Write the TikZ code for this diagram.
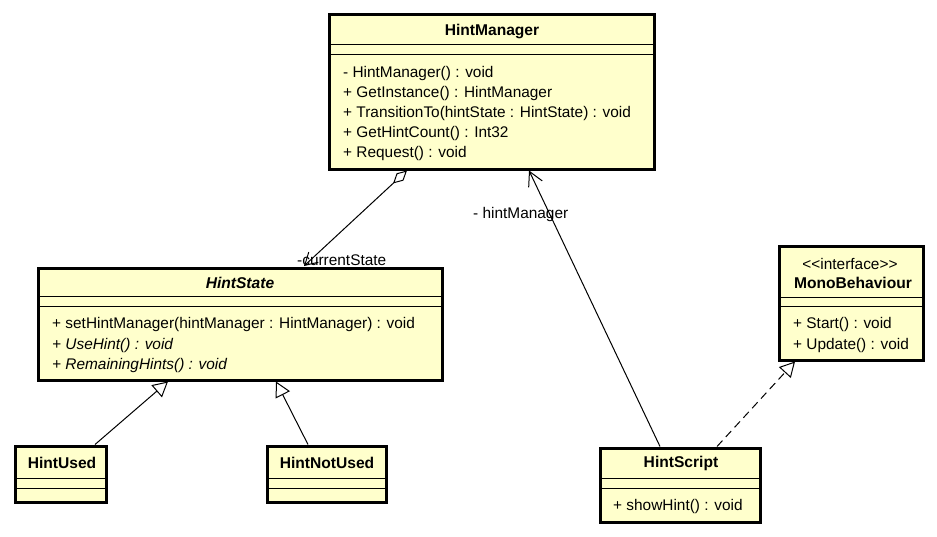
\documentclass[tikz,border=0pt]{standalone}
\usepackage{fontspec}
\setmainfont{Liberation Sans}
\usetikzlibrary{calc,arrows.meta}
\definecolor{classfill}{RGB}{255,255,204}
\tikzset{
  classbox/.style={draw=black, line width=3pt, fill=classfill, inner sep=0pt, outer sep=0pt, anchor=north west},
  sepline/.style={line width=1pt},
  member/.style={anchor=west, inner sep=0pt, yshift=-1.5pt, font=\fontsize{15.4}{18}\selectfont},
  ctitle/.style={inner sep=0pt, font=\bfseries\fontsize{15.6}{18}\selectfont},
  conn/.style={line width=1pt},
  openarrow/.style={-{Straight Barb[length=14pt,width=15pt,line width=1pt]}},
  gentip/.style={-{Triangle[length=15pt,width=16pt,fill=white,line width=1pt]}},
  aggtip/.style={{Diamond[length=19pt,width=10pt,fill=white,line width=1pt]}-{Straight Barb[length=12pt,width=14pt,line width=1pt]}},
}
\begin{document}
\begin{tikzpicture}[x=1pt,y=-1pt]
\useasboundingbox (0,0) rectangle (937,536);

% HintManager
\node[classbox, minimum width=325pt, minimum height=155pt] (hm) at (329,14) {};
\draw[sepline] ($(hm.north west)+(0,30)$) -- ($(hm.north east)+(0,30)$);
\draw[sepline] ($(hm.north west)+(0,40)$) -- ($(hm.north east)+(0,40)$);
\node[ctitle] (hmt) at (492,31) {HintManager};
\node[member] (hm1) at (343,72) {- HintManager() : void};
\node[member] (hm2) at (343,92) {+ GetInstance() : HintManager};
\node[member] (hm3) at (343,112) {+ TransitionTo(hintState : HintState) : void};
\node[member] (hm4) at (343,132) {+ GetHintCount() : Int32};
\node[member] (hm5) at (343,152) {+ Request() : void};

% HintState
\node[classbox, minimum width=404pt, minimum height=112pt] (hs) at (38,268) {};
\draw[sepline] ($(hs.north west)+(0,28)$) -- ($(hs.north east)+(0,28)$);
\draw[sepline] ($(hs.north west)+(0,38)$) -- ($(hs.north east)+(0,38)$);
\node[ctitle, font=\bfseries\itshape\fontsize{15.6}{18}\selectfont] (hst) at (240,283) {HintState};
\node[member] (hs1) at (52,323) {+ setHintManager(hintManager : HintManager) : void};
\node[member] (hs2) at (52,344) {\itshape + UseHint() : void};
\node[member] (hs3) at (52,364) {\itshape + RemainingHints() : void};

% HintUsed
\node[classbox, minimum width=91pt, minimum height=56pt] (hu) at (15,446) {};
\draw[sepline] ($(hu.north west)+(0,32)$) -- ($(hu.north east)+(0,32)$);
\draw[sepline] ($(hu.north west)+(0,42)$) -- ($(hu.north east)+(0,42)$);
\node[ctitle] (hut) at (62,463) {HintUsed};

% HintNotUsed
\node[classbox, minimum width=119pt, minimum height=56pt] (hnu) at (267,446) {};
\draw[sepline] ($(hnu.north west)+(0,32)$) -- ($(hnu.north east)+(0,32)$);
\draw[sepline] ($(hnu.north west)+(0,42)$) -- ($(hnu.north east)+(0,42)$);
\node[ctitle] (hnut) at (327,463) {HintNotUsed};

% HintScript
\node[classbox, minimum width=160pt, minimum height=74pt] (hsc) at (600,448) {};
\draw[sepline] ($(hsc.north west)+(0,30)$) -- ($(hsc.north east)+(0,30)$);
\draw[sepline] ($(hsc.north west)+(0,40)$) -- ($(hsc.north east)+(0,40)$);
\node[ctitle] (hsct) at (681,463) {HintScript};
\node[member] (hsc1) at (613,505) {+ showHint() : void};

% MonoBehaviour
\node[classbox, minimum width=144pt, minimum height=114pt] (mb) at (779,246) {};
\draw[sepline] ($(mb.north west)+(0,51)$) -- ($(mb.north east)+(0,51)$);
\draw[sepline] ($(mb.north west)+(0,60)$) -- ($(mb.north east)+(0,60)$);
\node[member, anchor=center] (mbs) at (850,262) {{<}{<}interface{>}{>}};
\node[ctitle] (mbt) at (853,283) {MonoBehaviour};
\node[member] (mb1) at (793,323) {+ Start() : void};
\node[member] (mb2) at (793,344) {+ Update() : void};

% connector end points
\coordinate (aggS) at ($(hm.south west)+(78,1.5)$);
\coordinate (aggE) at ($(hs.north west)+(266,-2)$);
\coordinate (asS) at ($(hsc.north west)+(60,-1.5)$);
\coordinate (asE) at ($(hm.south west)+(200,1.5)$);
\coordinate (reS) at ($(hsc.north west)+(117,-1.5)$);
\coordinate (reE) at ($(mb.south west)+(16,1.5)$);
\coordinate (g1S) at ($(hu.north west)+(80,-1.5)$);
\coordinate (g1E) at ($(hs.south west)+(130,1.5)$);
\coordinate (g2S) at ($(hnu.north west)+(41,-1.5)$);
\coordinate (g2E) at ($(hs.south west)+(238,1.5)$);

\draw[conn, aggtip] (aggS) -- (aggE);
\draw[conn, openarrow] (asS) -- (asE);
\draw[conn, gentip, dash pattern=on 8pt off 5pt] (reS) -- (reE);
\draw[conn, gentip] (g1S) -- (g1E);
\draw[conn, gentip] (g2S) -- (g2E);

\node[member] (lcs) at (297,259) {-currentState};
\node[member] (lhm) at (473,213) {- hintManager};
\end{tikzpicture}
\end{document}
